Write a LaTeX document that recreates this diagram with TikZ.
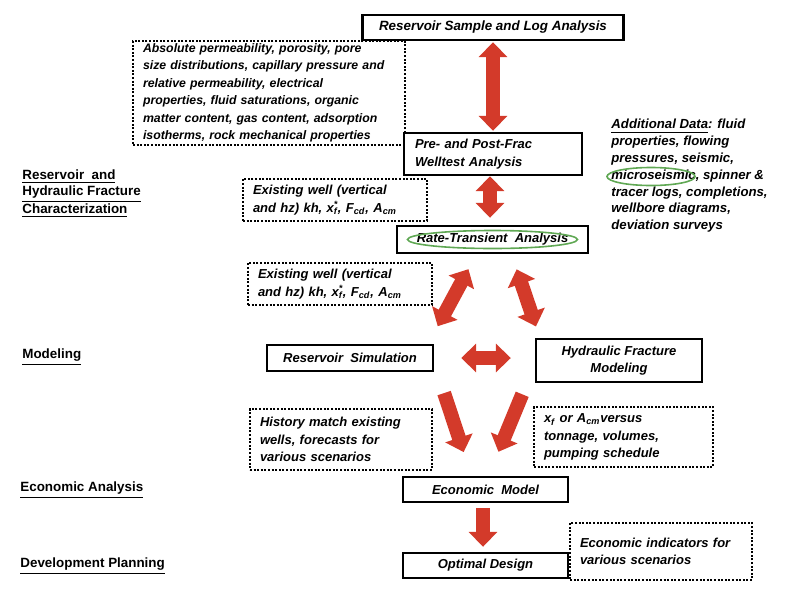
\documentclass[tikz,border=0pt]{standalone}
\usepackage{fontspec}
\setmainfont{Liberation Sans}
\usetikzlibrary{arrows.meta}
\definecolor{arrowred}{RGB}{211,58,42}
\definecolor{ringgreen}{RGB}{96,168,84}
\newcommand{\xfs}{x\rlap{\textsuperscript{*}}\textsubscript{f}}
\newcommand{\lowtxt}[1]{\textsubscript{#1}}
\tikzset{x=0.5pt, y=-0.5pt,
every node/.style={ % Sets the text of every box
font=\fontsize{6.5}{8.7}\selectfont\bfseries\itshape},
stage/.style={ % Solid boxes of the work flow
draw, line width=1.2pt, inner sep=0pt, align=center},
note/.style={ % Dotted boxes with the data
draw, line width=1pt, dash pattern=on 1pt off 0.8pt,
inner xsep=5pt, inner ysep=1pt, align=left},
heading/.style={ % Titles on the left
anchor=west, inner sep=0pt, align=left,
font=\fontsize{6.7}{7.8}\selectfont\bfseries},
ring/.style={ringgreen, line width=0.8pt},
dblarrow/.style={ % Fat red arrows
arrowred, line width=7pt,
{Triangle[length=7.5pt,width=14pt]}-{Triangle[length=7.5pt,width=14pt]}},
bigarrow/.style={arrowred, line width=7pt,
-{Triangle[length=7.5pt,width=14pt]}}}

\begin{document}
\begin{tikzpicture}
	\useasboundingbox (0,0) rectangle (790,594);
	% left titles
	\node[heading] (hchar) at (22,194) {\underline{Reservoir\ \ and}\\\underline{Hydraulic Fracture}\\\underline{Characterization}};
	\node[heading] (hmod) at (22,357) {\underline{Modeling}};
	\node[heading] (hecon) at (20,490) {\underline{Economic Analysis}};
	\node[heading] (hdev) at (20,566) {\underline{Development Planning}};
	% data boxes
	\node[note, text width=126pt, minimum height=52pt, font=\fontsize{6.15}{8.75}\selectfont\bfseries\itshape] (props) at (269,93) {Absolute permeability, porosity, pore\\size distributions, capillary pressure and\\relative permeability, electrical\\properties, fluid saturations, organic\\matter content, gas content, adsorption\\isotherms, rock mechanical properties};
	\node[note, text width=82pt, minimum height=21pt] (exist1) at (335,200) {Existing well (vertical\\and hz) kh, \xfs, F\lowtxt{cd}, A\lowtxt{cm}};
	\node[note, text width=82pt, minimum height=21pt] (exist2) at (340,284) {Existing well (vertical\\and hz) kh, \xfs, F\lowtxt{cd}, A\lowtxt{cm}};
	\node[note, text width=81pt, minimum height=30.5pt] (history) at (341,439.5) {History match existing\\wells, forecasts for\\various scenarios};
	\node[note, text width=79.5pt, minimum height=30pt] (xfvol) at (623.5,437) {x\lowtxt{f} or A\lowtxt{cm}versus\\tonnage, volumes,\\pumping schedule};
	\node[note, text width=81pt, minimum height=28.5pt] (econind) at (661,551.5) {Economic indicators for\\various scenarios};
	\node[anchor=north west, inner sep=0pt, align=left, font=\fontsize{6.6}{8.4}\selectfont\bfseries\itshape] (addl) at (611,119) {\underline{Additional Data}: fluid\\properties, flowing\\pressures, seismic,\\microseismic, spinner \&\\tracer logs, completions,\\wellbore diagrams,\\deviation surveys};
	% work flow
	\node[stage, minimum width=130.5pt, minimum height=12.5pt, font=\fontsize{6.7}{8.7}\selectfont\bfseries\itshape] (rsla) at (493,27.5) {Reservoir\ Sample\ and\ Log\ Analysis};
	\node[stage, fill=white, inner xsep=5.5pt, text width=78pt, align=left, minimum height=21pt] (pfa) at (493,154) {Pre- and Post-Frac\\Welltest Analysis};
	\node[stage, minimum width=95.5pt, minimum height=13.5pt] (rta) at (492.5,239.5) {Rate-Transient\ \ Analysis};
	\node[stage, minimum width=83pt, minimum height=13pt] (ressim) at (350,358) {Reservoir\ \ Simulation};
	\node[stage, minimum width=83pt, minimum height=21.5pt] (hfm) at (619,360.5) {Hydraulic Fracture\\Modeling};
	\node[stage, minimum width=82.5pt, minimum height=12.5pt] (econ) at (485.5,489.5) {Economic\ \ Model};
	\node[stage, minimum width=82.5pt, minimum height=12.5pt] (optd) at (485.5,565.5) {Optimal Design};
	% green rings
	\draw[ring] (rta.center) ellipse [x radius=42.5pt, y radius=4.5pt];
	\draw[ring] ([shift={(40,57.5)}]addl.north west) ellipse [x radius=22pt, y radius=4.5pt];
	% arrows
	\draw[dblarrow, shorten <=0.5pt, shorten >=0.5pt] (rsla.south) -- (pfa.north);
	\draw[dblarrow, shorten >=3.5pt] ([shift={(-3,0)}]pfa.south) -- ([shift={(-2.5,0)}]rta.north);
	\draw[dblarrow, shorten <=8.5pt, shorten >=10pt] ([shift={(-16,0)}]rta.south) -- ([shift={(-6,0)}]ressim.north east);
	\draw[dblarrow, shorten <=8pt, shorten >=6pt] ([shift={(19,0)}]rta.south) -- ([shift={(5,0)}]hfm.north west);
	\draw[dblarrow, shorten <=13.5pt, shorten >=12pt] (ressim.east) -- (ressim.east -| hfm.west);
	\draw[bigarrow, shorten <=11pt, shorten >=12.5pt] ([shift={(3,0)}]ressim.south east) -- ([shift={(-14,0)}]econ.north);
	\draw[bigarrow, shorten <=6pt, shorten >=13pt] ([shift={(-8,0)}]hfm.south west) -- ([shift={(3,0)}]econ.north);
	\draw[bigarrow, shorten <=2.5pt, shorten >=2.5pt] ([shift={(-2.5,0)}]econ.south) -- ([shift={(-2.5,0)}]optd.north);
\end{tikzpicture}
\end{document}
